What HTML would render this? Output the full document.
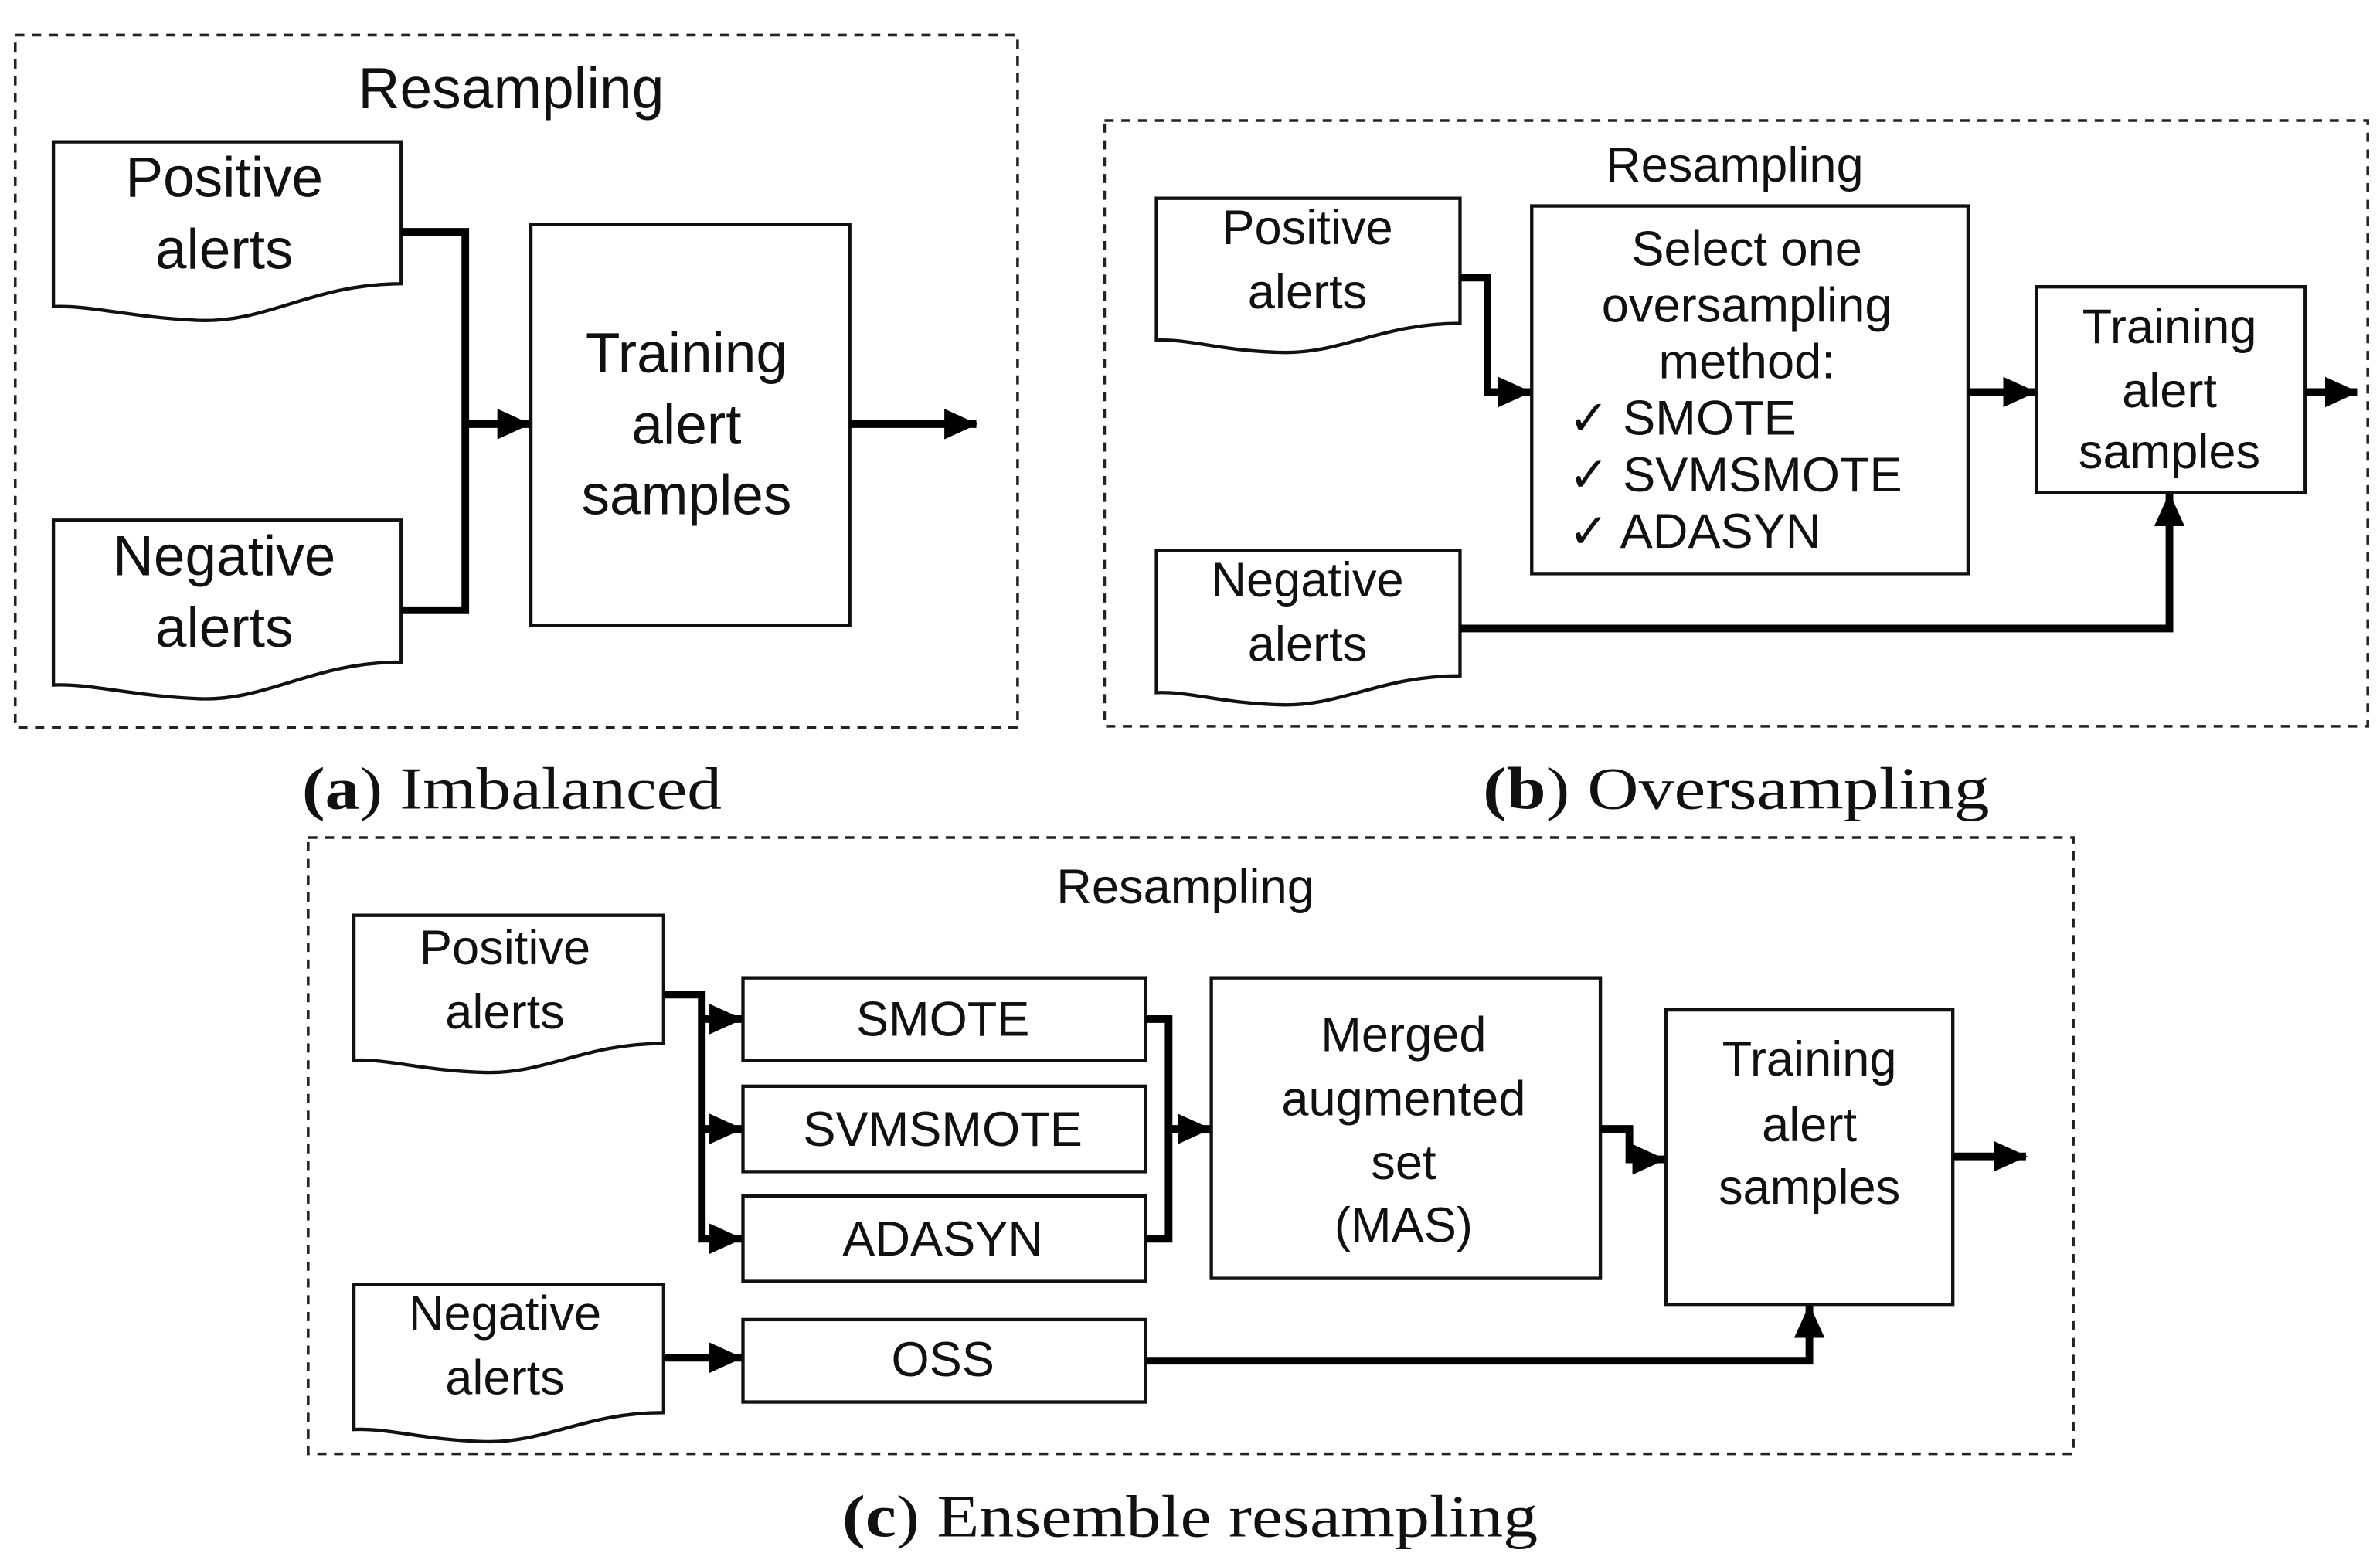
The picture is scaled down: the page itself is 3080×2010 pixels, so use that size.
<!DOCTYPE html>
<html><head><meta charset="utf-8"><style>
html,body{margin:0;padding:0;background:#fff;}
svg{display:block;}
.t{font-family:"Liberation Sans",Arial,sans-serif;fill:#111;text-anchor:middle;}
.c{font-family:"Liberation Serif","DejaVu Serif",serif;fill:#111;font-size:39px;}
.box{fill:#fff;stroke:#111;stroke-width:2.2;}
.dash{fill:none;stroke:#222;stroke-width:1.8;stroke-dasharray:6,5;}
.ln{fill:none;stroke:#000;stroke-width:5;stroke-linejoin:miter;}
</style></head><body>
<svg width="3080" height="2010" viewBox="0 0 1560 1018" preserveAspectRatio="none" xmlns="http://www.w3.org/2000/svg">
<defs>
<marker id="ah" viewBox="0 0 22 20" markerWidth="22" markerHeight="20" refX="21" refY="10" orient="auto" markerUnits="userSpaceOnUse">
<path d="M0,0 L22,10 L0,20 Z" fill="#000"/></marker>
</defs>

<!-- Panel a -->
<rect class="dash" x="10" y="23" width="657" height="454"/>
<text class="t" x="335" y="71" font-size="38">Resampling</text>
<path class="box" d="M35,93 H263 V186 C205,186 175,212 130,210 C85,208 60,200 35,201 Z"/>
<text class="t" x="147" y="129" font-size="37">Positive</text>
<text class="t" x="147" y="176" font-size="37">alerts</text>
<path class="box" d="M35,341 H263 V434 C205,434 175,460 130,458 C85,456 60,448 35,449 Z"/>
<text class="t" x="147" y="377" font-size="37">Negative</text>
<text class="t" x="147" y="424" font-size="37">alerts</text>
<rect class="box" x="348" y="147" width="209" height="263"/>
<text class="t" x="450" y="244" font-size="37">Training</text>
<text class="t" x="450" y="291" font-size="37">alert</text>
<text class="t" x="450" y="337" font-size="37">samples</text>
<path class="ln" d="M263,152 H305 V400 H263"/>
<path class="ln" d="M305,278 H347" marker-end="url(#ah)"/>
<path class="ln" d="M557,278 H640" marker-end="url(#ah)"/>
<text class="c" x="198" y="530" textLength="275" lengthAdjust="spacingAndGlyphs"><tspan font-weight="bold">(a</tspan>) Imbalanced</text>

<!-- Panel b -->
<rect class="dash" x="724" y="79" width="828" height="397"/>
<text class="t" x="1137" y="119" font-size="32">Resampling</text>
<path class="box" d="M758,130 H957 V212 C905,212 880,232 840,231 C800,230 780,222 758,223 Z"/>
<text class="t" x="857" y="160" font-size="32">Positive</text>
<text class="t" x="857" y="202" font-size="32">alerts</text>
<path class="box" d="M758,361 H957 V443 C905,443 880,463 840,462 C800,461 780,453 758,454 Z"/>
<text class="t" x="857" y="391" font-size="32">Negative</text>
<text class="t" x="857" y="433" font-size="32">alerts</text>
<rect class="box" x="1004" y="135" width="286" height="241"/>
<text class="t" x="1145" y="174" font-size="32">Select one</text>
<text class="t" x="1145" y="211" font-size="32">oversampling</text>
<text class="t" x="1145" y="248" font-size="32">method:</text>
<text class="t" x="1028" y="285" font-size="32" style="text-anchor:start">✓ SMOTE</text>
<text class="t" x="1028" y="322" font-size="32" style="text-anchor:start">✓ SVMSMOTE</text>
<text class="t" x="1028" y="359" font-size="32" style="text-anchor:start">✓ ADASYN</text>
<rect class="box" x="1335" y="188" width="176" height="135"/>
<text class="t" x="1422" y="225" font-size="32">Training</text>
<text class="t" x="1422" y="267" font-size="32">alert</text>
<text class="t" x="1422" y="307" font-size="32">samples</text>
<path class="ln" d="M957,182 H975 V257 H1003" marker-end="url(#ah)"/>
<path class="ln" d="M1290,257 H1334" marker-end="url(#ah)"/>
<path class="ln" d="M1511,257 H1545" marker-end="url(#ah)"/>
<path class="ln" d="M957,412 H1422 V324" marker-end="url(#ah)"/>
<text class="c" x="972" y="530" textLength="332" lengthAdjust="spacingAndGlyphs"><tspan font-weight="bold">(b</tspan>) Oversampling</text>

<!-- Panel c -->
<rect class="dash" x="202" y="549" width="1157" height="404"/>
<text class="t" x="777" y="592" font-size="32">Resampling</text>
<path class="box" d="M232,600 H435 V684 C383,684 358,704 318,703 C278,702 255,694 232,695 Z"/>
<text class="t" x="331" y="632" font-size="32">Positive</text>
<text class="t" x="331" y="674" font-size="32">alerts</text>
<path class="box" d="M232,842 H435 V926 C383,926 358,946 318,945 C278,944 255,936 232,937 Z"/>
<text class="t" x="331" y="872" font-size="32">Negative</text>
<text class="t" x="331" y="914" font-size="32">alerts</text>
<rect class="box" x="487" y="641" width="264" height="54"/>
<text class="t" x="618" y="679" font-size="32">SMOTE</text>
<rect class="box" x="487" y="712" width="264" height="56"/>
<text class="t" x="618" y="751" font-size="32">SVMSMOTE</text>
<rect class="box" x="487" y="784" width="264" height="56"/>
<text class="t" x="618" y="823" font-size="32">ADASYN</text>
<rect class="box" x="487" y="865" width="264" height="54"/>
<text class="t" x="618" y="902" font-size="32">OSS</text>
<rect class="box" x="794" y="641" width="255" height="197"/>
<text class="t" x="920" y="689" font-size="32">Merged</text>
<text class="t" x="920" y="731" font-size="32">augmented</text>
<text class="t" x="920" y="773" font-size="32">set</text>
<text class="t" x="920" y="814" font-size="32">(MAS)</text>
<rect class="box" x="1092" y="662" width="188" height="193"/>
<text class="t" x="1186" y="705" font-size="32">Training</text>
<text class="t" x="1186" y="748" font-size="32">alert</text>
<text class="t" x="1186" y="789" font-size="32">samples</text>
<path class="ln" d="M435,652 H460 V812 H486" marker-end="url(#ah)"/>
<path class="ln" d="M460,668 H486" marker-end="url(#ah)"/>
<path class="ln" d="M460,740 H486" marker-end="url(#ah)"/>
<path class="ln" d="M751,668 H766 V812 H751"/>
<path class="ln" d="M766,740 H793" marker-end="url(#ah)"/>
<path class="ln" d="M1049,740 H1068 V760 H1091" marker-end="url(#ah)"/>
<path class="ln" d="M1280,758 H1328" marker-end="url(#ah)"/>
<path class="ln" d="M435,890 H486" marker-end="url(#ah)"/>
<path class="ln" d="M751,892 H1186 V856" marker-end="url(#ah)"/>
<text class="c" x="552" y="1007" textLength="456" lengthAdjust="spacingAndGlyphs"><tspan font-weight="bold">(c</tspan>) Ensemble resampling</text>
</svg>
</body></html>
